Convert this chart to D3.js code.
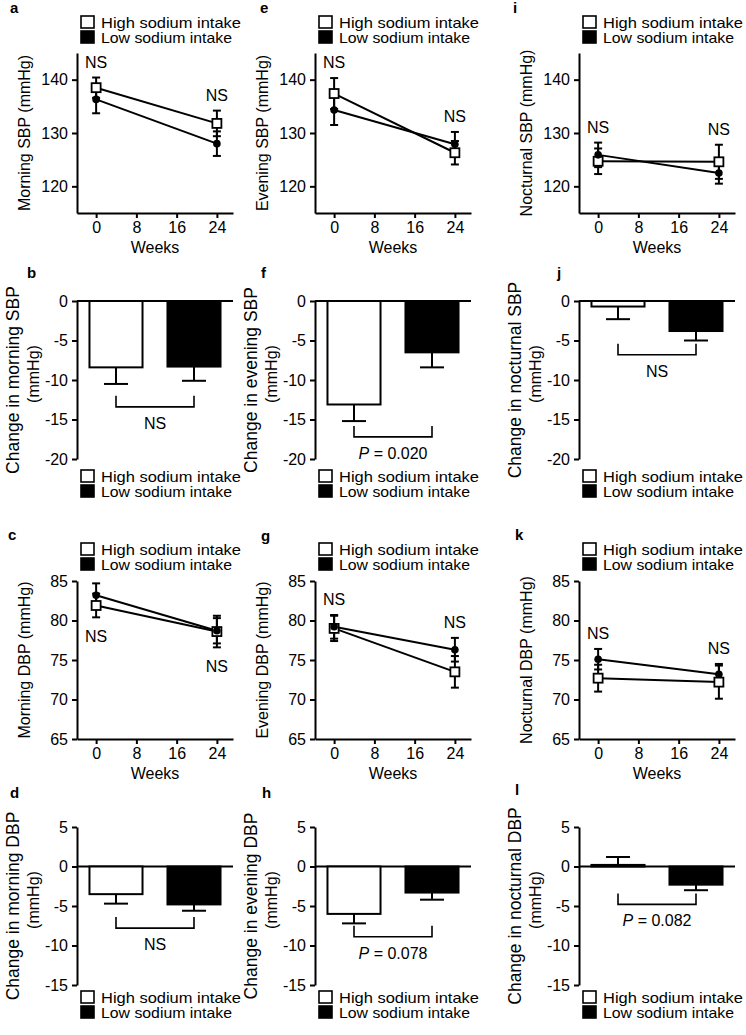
<!DOCTYPE html>
<html>
<head>
<meta charset="utf-8">
<script src="https://cdn.jsdelivr.net/npm/d3@7"></script>
<style>
  body { margin: 0; background: #fff; }
  svg { display: block; font-family: "Liberation Sans", Arial, sans-serif; }
</style>
</head>
<body>
<div id="chart-container"></div>
<script>
// Shared categories.
const weeks = [0, 24];
const groups = ["High sodium intake", "Low sodium intake"];
const weekTicks = [0, 8, 16, 24];
const sbpTicks = [120, 130, 140];
const dbpTicks = [65, 70, 75, 80, 85];
const sbpChangeTicks = [0, -5, -10, -15, -20];
const dbpChangeTicks = [5, 0, -5, -10, -15];

// Blood pressure over time (mean and SEM at week 0 and week 24).
const morningSbpHigh = [138.5, 131.8];
const morningSbpHighSem = [1.9, 2.4];
const morningSbpLow = [136.3, 128.0];
const morningSbpLowSem = [2.6, 2.3];

const eveningSbpHigh = [137.4, 126.3];
const eveningSbpHighSem = [2.9, 2.2];
const eveningSbpLow = [134.3, 127.9];
const eveningSbpLowSem = [2.8, 2.3];

const nocturnalSbpHigh = [124.7, 124.6];
const nocturnalSbpHighSem = [2.4, 3.2];
const nocturnalSbpLow = [125.9, 122.5];
const nocturnalSbpLowSem = [2.3, 2.0];

const morningDbpHigh = [81.9, 78.6];
const morningDbpHighSem = [1.5, 2.0];
const morningDbpLow = [83.2, 78.7];
const morningDbpLowSem = [1.5, 1.6];

const eveningDbpHigh = [79.0, 73.5];
const eveningDbpHighSem = [1.6, 2.0];
const eveningDbpLow = [79.2, 76.3];
const eveningDbpLowSem = [1.5, 1.5];

const nocturnalDbpHigh = [72.7, 72.2];
const nocturnalDbpHighSem = [1.7, 2.1];
const nocturnalDbpLow = [75.1, 73.2];
const nocturnalDbpLowSem = [1.3, 1.3];

// Change from baseline (high, low) with SEM.
const morningSbpChange = [-8.4, -8.3];
const morningSbpChangeSem = [2.1, 1.8];
const eveningSbpChange = [-13.1, -6.5];
const eveningSbpChangeSem = [2.1, 1.9];
const nocturnalSbpChange = [-0.7, -3.8];
const nocturnalSbpChangeSem = [1.6, 1.2];
const morningDbpChange = [-3.5, -4.8];
const morningDbpChangeSem = [1.2, 0.8];
const eveningDbpChange = [-6.0, -3.3];
const eveningDbpChangeSem = [1.2, 0.9];
const nocturnalDbpChange = [0.2, -2.3];
const nocturnalDbpChangeSem = [1.0, 0.7];

// Comparison labels and the level of their brackets.
const changeLabels = ["NS", "P = 0.020", "NS", "NS", "P = 0.078", "P = 0.082"];
const bracketLevels = [-13.4, -17.2, -6.8, -7.8, -8.9, -4.8];

const W = 746, H = 1035;
const font = '"Liberation Sans", Arial, sans-serif';
const plotWidth = 156;
const colX = [77, 315, 579];

const svg = d3.select("#chart-container")
    .append("svg")
    .attr("width", W)
    .attr("height", H)
    .attr("viewBox", `0 0 ${W} ${H}`);

function styleAxis(sel) {
    sel.attr("font-size", 16).attr("font-family", font);
    sel.select(".domain").attr("stroke", "#000").attr("stroke-width", 2);
    sel.selectAll(".tick line").attr("stroke", "#000").attr("stroke-width", 2);
    sel.selectAll(".tick text").attr("fill", "#000");
}

function drawLegend(x, top) {
    const g = svg.append("g").attr("transform", `translate(${x},${top})`);
    groups.forEach((name, i) => {
        g.append("rect")
            .attr("x", 1).attr("y", i * 15 + 1)
            .attr("width", 13).attr("height", 12)
            .attr("fill", i === 0 ? "#fff" : "#000")
            .attr("stroke", "#000").attr("stroke-width", 1.6);
        // Wide, tight-set text as in the original legend.
        g.append("text")
            .attr("x", 21).attr("y", i * 15 + 12.5)
            .attr("font-size", 15)
            .attr("textLength", i === 0 ? 140 : 131)
            .attr("lengthAdjust", "spacingAndGlyphs")
            .text(name);
    });
}

function drawLetter(letter, x, y) {
    svg.append("text")
        .attr("x", x).attr("y", y)
        .attr("font-size", 15).attr("font-weight", "bold")
        .text(letter);
}

function drawLinePanel(p) {
    const g = svg.append("g").attr("transform", `translate(${p.x},0)`);

    const x = d3.scaleLinear().domain([-3.8, 27.2]).range([0, plotWidth]);
    const y = d3.scaleLinear().domain(p.domain).range([p.bottom, p.top]);

    g.append("g")
        .call(d3.axisLeft(y).tickValues(p.ticks).tickSize(5).tickSizeOuter(0)
            .tickPadding(4).tickFormat((d) => String(d)))
        .call(styleAxis);

    g.append("g")
        .attr("transform", `translate(0,${p.bottom})`)
        .call(d3.axisBottom(x).tickValues(weekTicks).tickSize(5).tickSizeOuter(0)
            .tickPadding(4).tickFormat((d) => String(d)))
        .call(styleAxis);

    g.append("text")
        .attr("x", plotWidth / 2).attr("y", p.bottom + 40)
        .attr("text-anchor", "middle").attr("font-size", 16)
        .text("Weeks");

    g.append("text")
        .attr("transform", `translate(-47,${(p.top + p.bottom) / 2}) rotate(-90)`)
        .attr("text-anchor", "middle").attr("font-size", 16)
        .text(p.label);

    const series = [
        { mean: p.high, sem: p.highSem, open: true },
        { mean: p.low, sem: p.lowSem, open: false }
    ];

    const line = d3.line()
        .x((d) => x(d.week))
        .y((d) => y(d.value));

    series.forEach((s) => {
        const pts = weeks.map((w, i) => ({ week: w, value: s.mean[i], sem: s.sem[i] }));

        g.append("path")
            .datum(pts)
            .attr("fill", "none")
            .attr("stroke", "#000")
            .attr("stroke-width", 2)
            .attr("d", line);

        // Error bars with caps.
        const err = g.selectAll(null).data(pts).enter().append("g");
        err.append("line")
            .attr("x1", (d) => x(d.week)).attr("x2", (d) => x(d.week))
            .attr("y1", (d) => y(d.value - d.sem)).attr("y2", (d) => y(d.value + d.sem))
            .attr("stroke", "#000").attr("stroke-width", 2);
        [-1, 1].forEach((dir) => {
            err.append("line")
                .attr("x1", (d) => x(d.week) - 4).attr("x2", (d) => x(d.week) + 4)
                .attr("y1", (d) => y(d.value + dir * d.sem)).attr("y2", (d) => y(d.value + dir * d.sem))
                .attr("stroke", "#000").attr("stroke-width", 2);
        });

        s.pts = pts;
    });

    // Markers drawn last so they sit on top.
    series.forEach((s) => {
        if (s.open) {
            g.selectAll(null).data(s.pts).enter().append("rect")
                .attr("x", (d) => x(d.week) - 4.5).attr("y", (d) => y(d.value) - 4.5)
                .attr("width", 9).attr("height", 9)
                .attr("fill", "#fff").attr("stroke", "#000").attr("stroke-width", 1.8);
        } else {
            g.selectAll(null).data(s.pts).enter().append("circle")
                .attr("cx", (d) => x(d.week)).attr("cy", (d) => y(d.value))
                .attr("r", 3.8).attr("fill", "#000");
        }
    });

    // NS labels above or below the error bars.
    weeks.forEach((w, i) => {
        const hi = d3.max(series, (s) => s.mean[i] + s.sem[i]);
        const lo = d3.min(series, (s) => s.mean[i] - s.sem[i]);
        const below = p.below[i];
        g.append("text")
            .attr("x", x(w))
            .attr("y", below ? y(lo) + 25 : y(hi) - 10)
            .attr("text-anchor", "middle").attr("font-size", 16)
            .text("NS");
    });
}

function drawBarPanel(p) {
    const g = svg.append("g").attr("transform", `translate(${p.x},0)`);

    const x = d3.scaleBand().domain(groups).range([0, plotWidth])
        .paddingInner(0.32).paddingOuter(0.16);
    const y = d3.scaleLinear().domain(p.domain).range([p.top, p.bottom]);

    g.append("g")
        .call(d3.axisLeft(y).tickValues(p.ticks).tickSize(5).tickSizeOuter(0)
            .tickPadding(4).tickFormat((d) => String(d)))
        .call(styleAxis);

    // Zero line.
    g.append("line")
        .attr("x1", 0).attr("x2", plotWidth)
        .attr("y1", y(0)).attr("y2", y(0))
        .attr("stroke", "#000").attr("stroke-width", 2);

    const mid = (p.top + p.bottom) / 2;
    g.append("text")
        .attr("transform", `translate(-58,${mid}) rotate(-90)`)
        .attr("text-anchor", "middle").attr("font-size", 17.5)
        .text(p.label);
    g.append("text")
        .attr("transform", `translate(-38,${mid - 6}) rotate(-90)`)
        .attr("text-anchor", "middle").attr("font-size", 16)
        .text("(mmHg)");

    const data = groups.map((name, i) => ({ name, value: p.values[i], sem: p.sem[i], i }));

    g.selectAll(".bar")
        .data(data)
        .enter()
        .append("rect")
        .attr("class", "bar")
        .attr("x", (d) => x(d.name))
        .attr("width", x.bandwidth())
        .attr("y", (d) => Math.min(y(0), y(d.value)))
        .attr("height", (d) => Math.abs(y(d.value) - y(0)))
        .attr("fill", (d) => d.i === 0 ? "#fff" : "#000")
        .attr("stroke", "#000")
        .attr("stroke-width", 2);

    // One-sided error bars in the direction of the change.
    const cx = (d) => x(d.name) + x.bandwidth() / 2;
    const tip = (d) => d.value + Math.sign(d.value) * d.sem;
    g.selectAll(".err")
        .data(data)
        .enter()
        .append("line")
        .attr("x1", cx).attr("x2", cx)
        .attr("y1", (d) => y(d.value)).attr("y2", (d) => y(tip(d)))
        .attr("stroke", "#000").attr("stroke-width", 2);
    g.selectAll(".cap")
        .data(data)
        .enter()
        .append("line")
        .attr("x1", (d) => cx(d) - 12).attr("x2", (d) => cx(d) + 12)
        .attr("y1", (d) => y(tip(d))).attr("y2", (d) => y(tip(d)))
        .attr("stroke", "#000").attr("stroke-width", 2);

    // Comparison bracket.
    const by = y(p.bracket);
    const x1 = cx(data[0]), x2 = cx(data[1]);
    g.append("path")
        .attr("d", `M${x1},${by - 11}V${by}H${x2}V${by - 11}`)
        .attr("fill", "none").attr("stroke", "#000").attr("stroke-width", 1.6);

    const t = g.append("text")
        .attr("x", (x1 + x2) / 2).attr("y", by + 22)
        .attr("text-anchor", "middle").attr("font-size", 16);
    if (p.sig.startsWith("P")) {
        t.append("tspan").attr("font-style", "italic").text("P");
        t.append("tspan").text(p.sig.slice(1));
    } else {
        t.text(p.sig);
    }
}

// Line panels: rows 1 and 3.
const linePanels = [
    { x: colX[0], label: "Morning SBP (mmHg)", high: morningSbpHigh, highSem: morningSbpHighSem, low: morningSbpLow, lowSem: morningSbpLowSem, domain: [115, 145], ticks: sbpTicks, top: 53, bottom: 213, below: [false, false] },
    { x: colX[1], label: "Evening SBP (mmHg)", high: eveningSbpHigh, highSem: eveningSbpHighSem, low: eveningSbpLow, lowSem: eveningSbpLowSem, domain: [115, 145], ticks: sbpTicks, top: 53, bottom: 213, below: [false, false] },
    { x: colX[2], label: "Nocturnal SBP (mmHg)", high: nocturnalSbpHigh, highSem: nocturnalSbpHighSem, low: nocturnalSbpLow, lowSem: nocturnalSbpLowSem, domain: [115, 145], ticks: sbpTicks, top: 53, bottom: 213, below: [false, false] },
    { x: colX[0], label: "Morning DBP (mmHg)", high: morningDbpHigh, highSem: morningDbpHighSem, low: morningDbpLow, lowSem: morningDbpLowSem, domain: [65, 85], ticks: dbpTicks, top: 581, bottom: 739, below: [true, true] },
    { x: colX[1], label: "Evening DBP (mmHg)", high: eveningDbpHigh, highSem: eveningDbpHighSem, low: eveningDbpLow, lowSem: eveningDbpLowSem, domain: [65, 85], ticks: dbpTicks, top: 581, bottom: 739, below: [false, false] },
    { x: colX[2], label: "Nocturnal DBP (mmHg)", high: nocturnalDbpHigh, highSem: nocturnalDbpHighSem, low: nocturnalDbpLow, lowSem: nocturnalDbpLowSem, domain: [65, 85], ticks: dbpTicks, top: 581, bottom: 739, below: [false, false] }
];

// Bar panels: rows 2 and 4.
const barPanels = [
    { x: colX[0], label: "Change in morning SBP", values: morningSbpChange, sem: morningSbpChangeSem, domain: [0, -20], ticks: sbpChangeTicks, top: 301, bottom: 459 },
    { x: colX[1], label: "Change in evening SBP", values: eveningSbpChange, sem: eveningSbpChangeSem, domain: [0, -20], ticks: sbpChangeTicks, top: 301, bottom: 459 },
    { x: colX[2], label: "Change in nocturnal SBP", values: nocturnalSbpChange, sem: nocturnalSbpChangeSem, domain: [0, -20], ticks: sbpChangeTicks, top: 301, bottom: 459 },
    { x: colX[0], label: "Change in morning DBP", values: morningDbpChange, sem: morningDbpChangeSem, domain: [5, -15], ticks: dbpChangeTicks, top: 827, bottom: 985 },
    { x: colX[1], label: "Change in evening DBP", values: eveningDbpChange, sem: eveningDbpChangeSem, domain: [5, -15], ticks: dbpChangeTicks, top: 827, bottom: 985 },
    { x: colX[2], label: "Change in nocturnal DBP", values: nocturnalDbpChange, sem: nocturnalDbpChangeSem, domain: [5, -15], ticks: dbpChangeTicks, top: 827, bottom: 985 }
];
barPanels.forEach((p, i) => {
    p.sig = changeLabels[i];
    p.bracket = bracketLevels[i];
});

linePanels.forEach(drawLinePanel);
barPanels.forEach(drawBarPanel);

// Legends, one per panel.
const legendTops = [15, 469, 542, 990];
legendTops.forEach((top) => colX.forEach((cx) => drawLegend(cx + 3, top)));

// Panel letters.
[["a", 10, 13], ["b", 27, 278], ["c", 8, 540], ["d", 10, 798],
 ["e", 260, 13], ["f", 261, 278], ["g", 261, 541], ["h", 262, 798],
 ["i", 513, 13], ["j", 557, 278], ["k", 515, 540], ["l", 515, 795]]
    .forEach(([l, x, y]) => drawLetter(l, x, y));
</script>
</body>
</html>
